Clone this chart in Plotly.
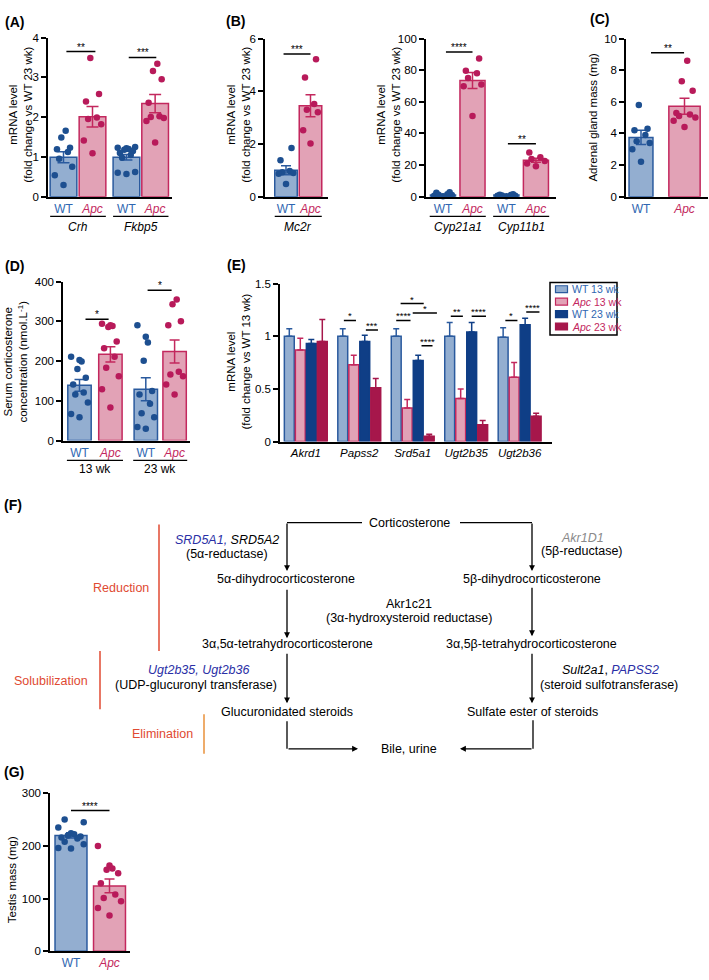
import numpy as np
import plotly.graph_objects as go

W, H = 709, 980
FONT = "Arial, 'Liberation Sans', sans-serif"

WT_FILL = "#93AED0"; WT_EDGE = "#2A5A9E"; WT_DOT = "#1D4F90"
APC_FILL = "#E2A2B6"; APC_EDGE = "#C3285E"; APC_DOT = "#B81A5A"
WT23_FILL = "#0F3E86"; APC23_FILL = "#A6174B"
WT_TXT = "#2F67B1"; APC_TXT = "#C3285E"
GENE_BLUE = "#2A2FA6"; RED = "#E04A32"; ORANGE = "#E8913A"

# ===================== DATA =====================
# (A) Crh / Fkbp5 mRNA
A_genes = ["Crh", "Fkbp5"]
A_mean = [0.99, 2.01, 0.99, 2.34]
A_sem = [0.14, 0.26, 0.07, 0.23]
A_wt_crh = [1.66, 1.49, 1.23, 1.19, 1.12, 0.95, 0.75, 0.54, 0.29]
A_apc_crh = [3.49, 2.58, 2.39, 1.99, 1.95, 1.82, 1.41, 1.09]
A_wt_fkbp5 = [1.25, 1.23, 1.22, 1.2, 1.18, 1.15, 1.1, 1.05, 0.98, 0.62, 0.57, 0.6]
A_apc_fkbp5 = [3.34, 3.16, 2.95, 2.36, 2.02, 2.0, 1.98, 1.9, 1.36]

# (B) Mc2r
B1_gene = ["Mc2r"]
B1_mean = [1.0, 3.45]
B1_sem = [0.17, 0.42]
B1_wt = [1.85, 1.38, 0.97, 0.93, 0.9, 0.87, 0.48]
B1_apc = [5.22, 4.52, 3.52, 3.3, 3.2, 2.52, 2.02]

# (B) Cyp21a1 / Cyp11b1
B2_genes = ["Cyp21a1", "Cyp11b1"]
B2_mean = [1.0, 73.5, 1.0, 23.0]
B2_sem = [0.3, 5.0, 0.15, 1.3]
B2_wt_cyp21 = [0.5, 1.0, 1.5, 2.4, 2.8, 1.2, 0.3]
B2_apc_cyp21 = [87.4, 79.7, 78.0, 75.0, 71.0, 69.8, 51.1]
B2_wt_cyp11 = [0.3, 0.6, 1.0, 1.2, 1.5, 0.8, 0.5]
B2_apc_cyp11 = [27.9, 25.0, 23.8, 22.5, 21.0, 19.3]

# (C) adrenal gland mass
C_mean = [3.75, 5.72]
C_sem = [0.45, 0.5]
C_wt = [5.8, 4.3, 4.2, 3.9, 3.5, 3.4, 3.0, 2.2]
C_apc = [8.6, 7.3, 6.7, 5.3, 5.2, 5.1, 5.0, 4.8, 4.4]

# (D) serum corticosterone
D_ages = ["13 wk", "23 wk"]
D_mean = [139, 217, 129, 224]
D_sem = [15, 19, 29, 29]
D_wt13 = [211, 203, 199, 180, 158, 141, 121, 116, 96, 67, 59]
D_apc13 = [294, 288, 286, 290, 249, 232, 211, 183, 162, 129, 83]
D_wt23 = [290, 261, 247, 201, 125, 116, 93, 69, 59, 34, 30]
D_apc23 = [355, 343, 300, 290, 166, 162, 173, 141, 116]

# (E) mRNA of metabolism genes
E_genes = ["Akrd1", "Papss2", "Srd5a1", "Ugt2b35", "Ugt2b36"]
E_series = ["WT 13 wk", "Apc 13 wk", "WT 23 wk", "Apc 23 wk"]
E_wt13 = [1.0, 1.0, 1.0, 1.0, 0.99]
E_apc13 = [0.87, 0.73, 0.32, 0.41, 0.61]
E_wt23 = [0.93, 0.95, 0.77, 1.04, 1.11]
E_apc23 = [0.95, 0.51, 0.05, 0.16, 0.24]
E_wt13_err = [0.07, 0.07, 0.07, 0.13, 0.09]
E_apc13_err = [0.11, 0.09, 0.08, 0.09, 0.14]
E_wt23_err = [0.04, 0.06, 0.05, 0.09, 0.06]
E_apc23_err = [0.21, 0.09, 0.02, 0.04, 0.03]

# (G) testis mass
G_mean = [220, 124]
G_sem = [5, 13]
G_wt = [250, 245, 235, 224, 222, 220, 218, 216, 214, 208, 203, 196, 195]
G_apc = [200, 163, 157, 148, 155, 129, 108, 101, 95, 82, 68]

# ===================== HELPERS =====================
def X(px):
    return px / W

def Y(py):
    return 1 - py / H

fig = go.Figure()
layout = dict(width=W, height=H, margin=dict(l=0, r=0, t=0, b=0),
              paper_bgcolor="white", plot_bgcolor="white",
              barmode="overlay", showlegend=False,
              font=dict(family=FONT, color="black"))
annotations = []
shapes = []


def axname(n):
    return ("x", "y") if n == 1 else (f"x{n}", f"y{n}")


def add_axes(n, L, R, T, B, c0, s, yr, yticks, tickvals, ticktext, tfont=12):
    xa, ya = axname(n)
    xkey = "xaxis" if n == 1 else f"xaxis{n}"
    ykey = "yaxis" if n == 1 else f"yaxis{n}"
    layout[xkey] = dict(domain=[X(L), X(R)], range=[(L - c0) / s, (R - c0) / s],
                        anchor=ya, showline=True, linecolor="black", linewidth=1.5,
                        ticks="", showgrid=False, zeroline=False,
                        tickvals=tickvals, ticktext=ticktext,
                        tickfont=dict(size=tfont, family=FONT))
    layout[ykey] = dict(domain=[Y(B), Y(T)], range=yr, anchor=xa,
                        showline=True, linecolor="black", linewidth=1.5,
                        ticks="outside", ticklen=5, tickwidth=1.5, tickcolor="black",
                        tickvals=yticks, showgrid=False, zeroline=False,
                        tickfont=dict(size=11.5, family=FONT))


def jitter(vals, spread):
    order = np.argsort(vals)
    pattern = [0, -1, 1, -0.5, 0.5, -0.75, 0.75, -0.25, 0.25]
    off = np.zeros(len(vals))
    for rank, idx in enumerate(order):
        off[idx] = pattern[rank % len(pattern)] * spread
    return off


def bar(n, x, m, e, fill, edge, w, capw, two_sided=True):
    xa, ya = axname(n)
    err = dict(type="data", array=[e], color=edge, thickness=1.5, width=capw)
    if not two_sided:
        err.update(symmetric=False, arrayminus=[0])
    fig.add_trace(go.Bar(x=[x], y=[m], width=[w], xaxis=xa, yaxis=ya,
                         marker=dict(color=fill, line=dict(color=edge, width=1.5)),
                         error_y=err, showlegend=False, hoverinfo="skip"))


def dots(n, x, vals, color, spread):
    xa, ya = axname(n)
    off = jitter(vals, spread)
    fig.add_trace(go.Scatter(x=x + off, y=vals, mode="markers", xaxis=xa, yaxis=ya,
                             marker=dict(size=6.5, color=color), showlegend=False,
                             hoverinfo="skip", cliponaxis=False))


def sig(n, x0, x1, yv, text, size=10):
    xa, ya = axname(n)
    shapes.append(dict(type="line", xref=xa, yref=ya, x0=x0, x1=x1, y0=yv, y1=yv,
                       line=dict(color="black", width=1.5)))
    annotations.append(dict(xref=xa, yref=ya, x=(x0 + x1) / 2, y=yv, text=text,
                            showarrow=False, yanchor="bottom", yshift=-3,
                            font=dict(size=size, family=FONT)))


def ptext(text, xp, yp, size=12, color="black", angle=0, xanchor="center"):
    annotations.append(dict(xref="paper", yref="paper", x=X(xp), y=Y(yp), text=text,
                            showarrow=False, textangle=angle, xanchor=xanchor,
                            yanchor="middle", font=dict(size=size, color=color, family=FONT)))


def hline(x0, x1, y, color="black", width=1.3):
    shapes.append(dict(type="line", xref="paper", yref="paper", x0=X(x0), x1=X(x1),
                       y0=Y(y), y1=Y(y), line=dict(color=color, width=width)))


def vline(x, y0, y1, color="black", width=1.3):
    shapes.append(dict(type="line", xref="paper", yref="paper", x0=X(x), x1=X(x),
                       y0=Y(y0), y1=Y(y1), line=dict(color=color, width=width)))


def arrow(tx, ty, fx, fy):
    annotations.append(dict(xref="paper", yref="paper", x=X(tx), y=Y(ty), ax=fx - tx,
                            ay=fy - ty, text="", showarrow=True, arrowhead=2,
                            arrowsize=0.9, arrowwidth=1.3, arrowcolor="black"))


def wt_lbl():
    return f"<span style='color:{WT_TXT}'>WT</span>"


def apc_lbl():
    return f"<span style='color:{APC_TXT}'><i>Apc</i></span>"


def group_underline(n, x0, x1, ypx):
    xa, _ = axname(n)
    shapes.append(dict(type="line", xref=xa, yref="paper", x0=x0, x1=x1,
                       y0=Y(ypx), y1=Y(ypx), line=dict(color="black", width=1.2)))


def group_label(n, x, ypx, text, size=12):
    xa, _ = axname(n)
    annotations.append(dict(xref=xa, yref="paper", x=x, y=Y(ypx), text=text,
                            showarrow=False, yanchor="middle",
                            font=dict(size=size, family=FONT)))

# ===================== PANEL A =====================
posA = [0, 1, 2.17, 3.16]
add_axes(1, 48, 172, 32, 193, 63.5, 29, [0, 4], [0, 1, 2, 3, 4], posA,
         [wt_lbl(), apc_lbl(), wt_lbl(), apc_lbl()])
ptsA = [A_wt_crh, A_apc_crh, A_wt_fkbp5, A_apc_fkbp5]
for i in range(4):
    wt = i % 2 == 0
    bar(1, posA[i], A_mean[i], A_sem[i], WT_FILL if wt else APC_FILL,
        WT_EDGE if wt else APC_EDGE, 0.92, 6)
for i in range(4):
    wt = i % 2 == 0
    dots(1, posA[i], np.array(ptsA[i]), WT_DOT if wt else APC_DOT, 0.3)
for g in range(2):
    group_underline(1, posA[2 * g] - 0.46, posA[2 * g + 1] + 0.46, 213)
    group_label(1, (posA[2 * g] + posA[2 * g + 1]) / 2, 224, f"<i>{A_genes[g]}</i>")
sig(1, 0.1, 1.1, 3.65, "**")
sig(1, 2.25, 3.2, 3.5, "***")
ptext("mRNA level<br>(fold change vs WT 23 wk)", 21, 110, size=11.5, angle=-90)
ptext("<b>(A)</b>", 15, 16, size=14)

# ===================== PANEL B (Mc2r) =====================
posB1 = [0, 1]
add_axes(2, 265, 328, 33, 193, 286, 24.5, [0, 6], [0, 2, 4, 6], posB1,
         [wt_lbl(), apc_lbl()])
bar(2, 0, B1_mean[0], B1_sem[0], WT_FILL, WT_EDGE, 0.92, 5)
bar(2, 1, B1_mean[1], B1_sem[1], APC_FILL, APC_EDGE, 0.92, 5)
dots(2, 0, np.array(B1_wt), WT_DOT, 0.3)
dots(2, 1, np.array(B1_apc), APC_DOT, 0.3)
group_underline(2, -0.46, 1.46, 213)
group_label(2, 0.5, 224, f"<i>{B1_gene[0]}</i>")
sig(2, -0.1, 1.0, 5.42, "***")
ptext("mRNA level<br>(fold change vs WT 23 wk)", 239, 110, size=11.5, angle=-90)
ptext("<b>(B)</b>", 235, 15, size=14)

# ===================== PANEL B (Cyp) =====================
posB2 = [0, 1, 2.15, 3.15]
add_axes(3, 426, 556, 33, 193, 443, 29.5, [0, 100], [0, 20, 40, 60, 80, 100], posB2,
         [wt_lbl(), apc_lbl(), wt_lbl(), apc_lbl()])
ptsB2 = [B2_wt_cyp21, B2_apc_cyp21, B2_wt_cyp11, B2_apc_cyp11]
for i in range(4):
    wt = i % 2 == 0
    bar(3, posB2[i], B2_mean[i], B2_sem[i], WT_FILL if wt else APC_FILL,
        WT_EDGE if wt else APC_EDGE, 0.85, 5)
for i in range(4):
    wt = i % 2 == 0
    dots(3, posB2[i], np.array(ptsB2[i]), WT_DOT if wt else APC_DOT, 0.3)
for g in range(2):
    group_underline(3, posB2[2 * g] - 0.45, posB2[2 * g + 1] + 0.45, 213)
    group_label(3, (posB2[2 * g] + posB2[2 * g + 1]) / 2, 224, f"<i>{B2_genes[g]}</i>")
sig(3, 0.1, 1.0, 91.5, "****")
sig(3, 2.2, 3.15, 33.5, "**")
ptext("mRNA level<br>(fold change vs WT 23 wk)", 389, 110, size=11.5, angle=-90)

# ===================== PANEL C =====================
add_axes(4, 626, 708, 33, 193, 641, 43.5, [0, 10], [0, 2, 4, 6, 8, 10], [0, 1],
         [wt_lbl(), apc_lbl()])
bar(4, 0, C_mean[0], C_sem[0], WT_FILL, WT_EDGE, 0.55, 5)
bar(4, 1, C_mean[1], C_sem[1], APC_FILL, APC_EDGE, 0.72, 5)
dots(4, 0, np.array(C_wt), WT_DOT, 0.2)
dots(4, 1, np.array(C_apc), APC_DOT, 0.25)
sig(4, 0.23, 0.99, 9.1, "**")
ptext("Adrenal gland mass (mg)", 593, 113, size=11.5, angle=-90)
ptext("<b>(C)</b>", 599, 13, size=14)

# ===================== PANEL D =====================
posD = [0, 1.03, 2.21, 3.17]
add_axes(5, 63, 190, 279, 440, 79.5, 30, [0, 400], [0, 100, 200, 300, 400], posD,
         [wt_lbl(), apc_lbl(), wt_lbl(), apc_lbl()])
ptsD = [D_wt13, D_apc13, D_wt23, D_apc23]
for i in range(4):
    wt = i % 2 == 0
    bar(5, posD[i], D_mean[i], D_sem[i], WT_FILL if wt else APC_FILL,
        WT_EDGE if wt else APC_EDGE, 0.78, 5)
for i in range(4):
    wt = i % 2 == 0
    dots(5, posD[i], np.array(ptsD[i]), WT_DOT if wt else APC_DOT, 0.28)
for g in range(2):
    group_underline(5, posD[2 * g] - 0.42, posD[2 * g + 1] + 0.42, 460)
    group_label(5, (posD[2 * g] + posD[2 * g + 1]) / 2, 469, D_ages[g])
sig(5, 0.2, 0.97, 305, "*")
sig(5, 2.27, 3.07, 378, "*")
ptext("Serum corticosterone<br>concentration (nmol.L<sup>-1</sup>)", 16, 360, size=11.5, angle=-90)
ptext("<b>(D)</b>", 14, 263, size=14)

# ===================== PANEL E =====================
gp = 4.86
add_axes(6, 280, 552, 281, 441, 289.3, 11, [0, 1.5], [0, 0.5, 1, 1.5],
         [g * gp + 1.5 for g in range(5)], [f"<i>{gname}</i>" for gname in E_genes], tfont=11.5)
E_vals = [E_wt13, E_apc13, E_wt23, E_apc23]
E_errs = [E_wt13_err, E_apc13_err, E_wt23_err, E_apc23_err]
E_fill = [WT_FILL, APC_FILL, WT23_FILL, APC23_FILL]
E_edge = [WT_EDGE, APC_EDGE, WT23_FILL, APC23_FILL]
for g in range(5):
    for j in range(4):
        bar(6, g * gp + j, E_vals[j][g], E_errs[j][g], E_fill[j], E_edge[j], 0.9, 3,
            two_sided=False)
E_sig = [
    (1 * gp + 0.1, 1 * gp + 1.2, 1.15, "*"),
    (1 * gp + 2.1, 1 * gp + 3.2, 1.06, "***"),
    (2 * gp + 0.0, 2 * gp + 1.3, 1.15, "****"),
    (2 * gp + 0.4, 2 * gp + 2.5, 1.31, "*"),
    (2 * gp + 1.5, 2 * gp + 3.7, 1.22, "*"),
    (2 * gp + 2.3, 2 * gp + 3.3, 0.91, "****"),
    (3 * gp + 0.1, 3 * gp + 1.2, 1.19, "**"),
    (3 * gp + 2.0, 3 * gp + 3.3, 1.19, "****"),
    (4 * gp + 0.2, 4 * gp + 1.3, 1.15, "*"),
    (4 * gp + 2.1, 4 * gp + 3.3, 1.23, "****"),
]
for x0, x1, yv, t in E_sig:
    sig(6, x0, x1, yv, t, size=9.5)
ptext("mRNA level<br>(fold change vs WT 13 wk)", 239, 360, size=11.5, angle=-90)
ptext("<b>(E)</b>", 236, 262, size=14)
# legend box
shapes.append(dict(type="rect", xref="paper", yref="paper", x0=X(550), x1=X(617),
                   y0=Y(333), y1=Y(280), line=dict(color="black", width=1.5),
                   fillcolor="white"))
E_leg_txt = [f"<span style='color:{WT_TXT}'>WT 13 wk</span>",
             f"<span style='color:{APC_TXT}'><i>Apc</i> 13 wk</span>",
             f"<span style='color:{WT_TXT}'>WT 23 wk</span>",
             f"<span style='color:{APC_TXT}'><i>Apc</i> 23 wk</span>"]
for j in range(4):
    yc = 286.7 + j * 12.6
    shapes.append(dict(type="rect", xref="paper", yref="paper", x0=X(555.5), x1=X(567.5),
                       y0=Y(yc + 3.5), y1=Y(yc - 3.5), fillcolor=E_fill[j],
                       line=dict(color=E_edge[j], width=1.2)))
    ptext(E_leg_txt[j], 570, yc, size=10.5, xanchor="left")

# ===================== PANEL F =====================
ptext("<b>(F)</b>", 13, 505, size=14)
FS = 12.5
ptext("Corticosterone", 409, 523, size=FS)
ptext(f"<span style='color:{GENE_BLUE}'><i>SRD5A1,</i></span> <i>SRD5A2</i>", 227, 541, size=FS)
ptext("(5α-reductase)", 227, 555, size=FS)
ptext("<i>Akr1D1</i>", 582, 539, size=FS, color="#8A8A8A")
ptext("(5β-reductase)", 582, 552, size=FS)
ptext("5α-dihydrocorticosterone", 286, 580, size=FS)
ptext("5β-dihydrocorticosterone", 532, 580, size=FS)
ptext("Akr1c21", 409, 605.5, size=FS)
ptext("(3α-hydroxysteroid reductase)", 409, 620, size=FS)
ptext("3α,5α-tetrahydrocorticosterone", 287, 646, size=FS)
ptext("3α,5β-tetrahydrocorticosterone", 531, 646, size=FS)
ptext("Reduction", 121, 589, size=FS, color=RED)
ptext(f"<span style='color:{GENE_BLUE}'><i>Ugt2b35, Ugt2b36</i></span>", 199, 672.5, size=FS)
ptext("(UDP-glucuronyl transferase)", 196, 687, size=FS)
ptext("Solubilization", 51, 683, size=FS, color=RED)
ptext("Glucuronidated steroids", 287, 715, size=FS)
ptext("Elimination", 162, 737, size=FS, color=RED)
ptext(f"<i>Sult2a1</i>, <span style='color:{GENE_BLUE}'><i>PAPSS2</i></span>", 610, 672.5, size=FS)
ptext("(steroid sulfotransferase)", 609, 687, size=FS)
ptext("Sulfate ester of steroids", 532, 715, size=FS)
ptext("Bile, urine", 409, 752, size=FS)

hline(287, 362, 523)
hline(460, 532, 523)
arrow(287, 572, 287, 523)
arrow(532, 572, 532, 523)
arrow(287, 640, 287, 590)
arrow(532, 638, 532, 588)
arrow(287, 706, 287, 655)
arrow(532, 706, 532, 655)
vline(287, 724, 752)
arrow(358, 752, 287, 752)
vline(533, 723, 752)
arrow(460, 752, 533, 752)
vline(159, 525, 653, color=RED, width=1.5)
vline(100, 653, 712, color=RED, width=1.5)
vline(204, 717, 757, color=ORANGE, width=1.5)

# ===================== PANEL G =====================
add_axes(7, 50, 130, 797, 957, 71, 38.5, [0, 300], [0, 100, 200, 300], [0, 1],
         [wt_lbl(), apc_lbl()])
bar(7, 0, G_mean[0], G_sem[0], WT_FILL, WT_EDGE, 0.83, 5)
bar(7, 1, G_mean[1], G_sem[1], APC_FILL, APC_EDGE, 0.83, 5)
dots(7, 0, np.array(G_wt), WT_DOT, 0.33)
dots(7, 1, np.array(G_apc), APC_DOT, 0.3)
sig(7, 0.0, 1.0, 267, "****")
ptext("Testis mass (mg)", 12, 885, size=11.5, angle=-90)
ptext("<b>(G)</b>", 14, 775, size=14)

layout["annotations"] = annotations
layout["shapes"] = shapes
fig.update_layout(**layout)
fig.write_html("out.html", config={"displayModeBar": False},
               post_script="document.body.style.margin='0px';")
